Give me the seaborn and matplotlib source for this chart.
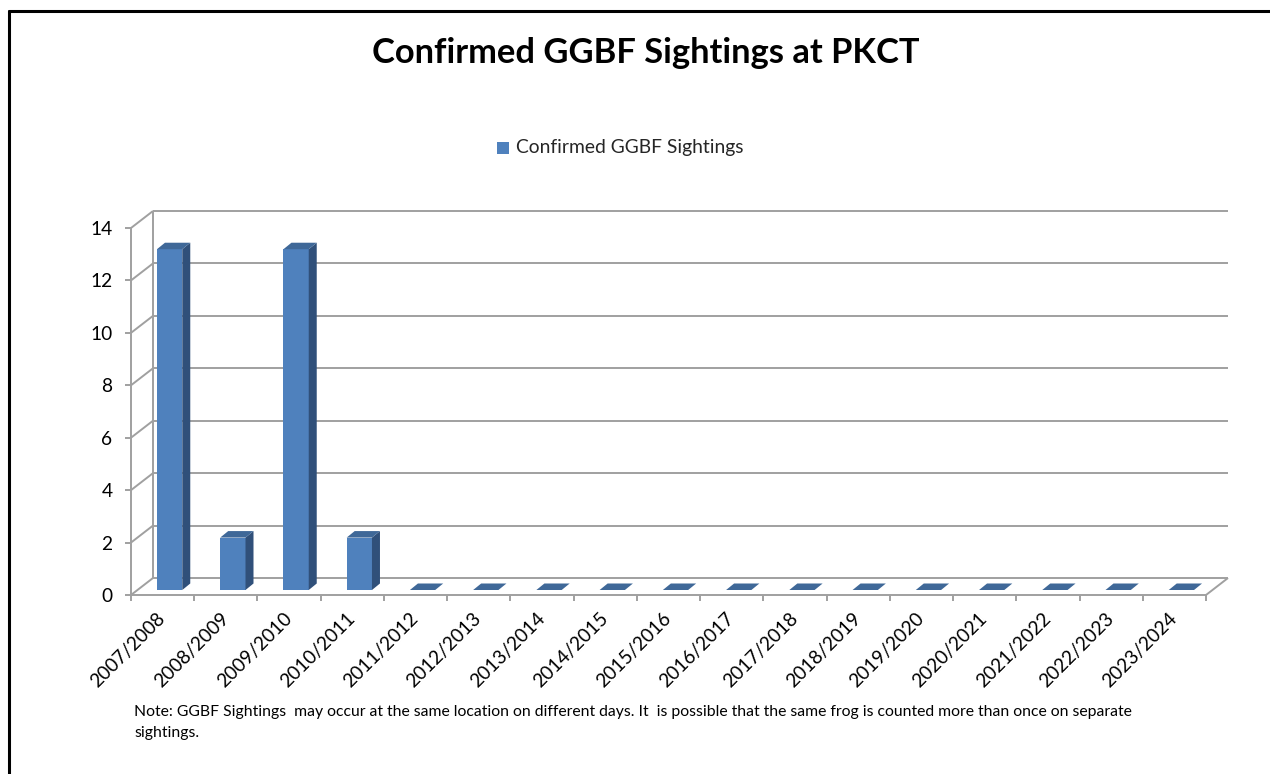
import numpy as np
import pandas as pd
import matplotlib
matplotlib.use("Agg")
import matplotlib.pyplot as plt
import seaborn as sns
from matplotlib.patches import Polygon, Patch
from matplotlib.lines import Line2D

# ---------------- data ----------------
seasons = ["2007/2008", "2008/2009", "2009/2010", "2010/2011", "2011/2012",
           "2012/2013", "2013/2014", "2014/2015", "2015/2016", "2016/2017",
           "2017/2018", "2018/2019", "2019/2020", "2020/2021", "2021/2022",
           "2022/2023", "2023/2024"]
sightings = [13, 2, 13, 2, 0, 0, 0, 0, 0, 0, 0, 0, 0, 0, 0, 0, 0]
y_ticks = [0, 2, 4, 6, 8, 10, 12, 14]
series_name = "Confirmed GGBF Sightings"
title_text = "Confirmed GGBF Sightings at PKCT"
note_text = ("Note: GGBF Sightings  may occur at the same location on different days. "
             "It  is possible that the same frog is counted more than once on separate\n"
             "sightings.")

# ---------------- style ----------------
W, H, DPI = 1270, 774, 100
sns.set_style("white")
plt.rcParams["font.family"] = ["Lato", "DejaVu Sans"]

FRONT = "#4F81BD"
SIDE = "#30507A"
TOP = "#3F6898"
GRID = "#A0A0A0"
GLW = 1.4

fig = plt.figure(figsize=(W / DPI, H / DPI), dpi=DPI)
fig.patch.set_facecolor("white")

# front plane of the 3-D box, in pixels
X0, X1, Y0, Y1 = 131, 1206, 595, 228
ax = fig.add_axes([X0 / W, 1 - Y0 / H, (X1 - X0) / W, (Y0 - Y1) / H])

df = pd.DataFrame({"season": seasons, "sightings": sightings})
sns.barplot(data=df, x="season", y="sightings", order=seasons, color=FRONT,
            saturation=1, width=0.4, ax=ax, zorder=3, linewidth=0)

n = len(seasons)
ax.set_xlim(-0.5, n - 0.5)
ax.set_ylim(0, y_ticks[-1])
ax.patch.set_visible(False)
for s in ax.spines.values():
    s.set_visible(False)

# pixel -> data unit conversion
sx = (X1 - X0) / n
sy = (Y0 - Y1) / y_ticks[-1]
WDX, WDY = 22 / sx, 17 / sy      # wall depth
BX, BY = 7 / sx, 5 / sy          # bar placement inside depth
BDX, BDY = 8 / sx, 6.5 / sy      # bar depth

xl, xr = -0.5, n - 0.5
kw = dict(color=GRID, lw=GLW, clip_on=False, zorder=1, solid_capstyle="butt")
# back wall gridlines + left wall slants
for t in y_ticks:
    ax.plot([xl + WDX, xr + WDX], [t + WDY, t + WDY], **kw)
    ax.plot([xl, xl + WDX], [t, t + WDY], **kw)
ax.plot([xl + WDX, xl + WDX], [WDY, y_ticks[-1] + WDY], **kw)
# front axis lines and floor edges
ax.plot([xl, xl], [0, y_ticks[-1]], **kw)
ax.plot([xl, xr], [0, 0], **kw)
ax.plot([xr, xr + WDX], [0, WDY], **kw)

# 3-D bars built from the seaborn bar patches
bars = list(ax.patches)
for p in bars:
    x, w, h = p.get_x(), p.get_width(), p.get_height()
    x0 = x + BX
    p.set_x(x0)
    p.set_y(BY)
    top = BY + h
    side = Polygon([(x0 + w, BY), (x0 + w + BDX, BY + BDY),
                    (x0 + w + BDX, top + BDY), (x0 + w, top)],
                   closed=True, facecolor=SIDE, edgecolor="none",
                   zorder=3, clip_on=False)
    cap = Polygon([(x0, top), (x0 + w, top), (x0 + w + BDX, top + BDY),
                   (x0 + BDX, top + BDY)],
                  closed=True, facecolor=TOP, edgecolor="none",
                  zorder=3, clip_on=False)
    ax.add_patch(side)
    ax.add_patch(cap)

# ticks & labels
ax.set_yticks(y_ticks)
ax.set_yticklabels([str(t) for t in y_ticks])
ax.set_xticks(range(n))
ax.set_xticklabels(seasons, rotation=45, ha="right", va="center",
                   rotation_mode="anchor")
ax.set_xticks(np.arange(-0.5, n, 1), minor=True)
ax.tick_params(axis="y", left=True, length=4.3, width=GLW, color=GRID,
               pad=9.0, labelsize=13.8, labelcolor="black")
ax.tick_params(axis="x", which="major", bottom=True, length=0, pad=15,
               labelsize=13.8, labelcolor="black")
ax.tick_params(axis="x", which="minor", bottom=True, length=4.3, width=GLW,
               color=GRID)
ax.set_xlabel("")
ax.set_ylabel("")

# title, legend, note
title = fig.text(646 / W, 1 - 63 / H, title_text, ha="center", va="baseline",
                 fontsize=20, fontweight="bold", color="black")
leg = fig.legend(handles=[Patch(facecolor=FRONT, edgecolor="none", label=series_name)],
                 loc="center", bbox_to_anchor=(620 / W, 1 - 148 / H),
                 frameon=False, fontsize=12, handlelength=0.75,
                 handleheight=0.75, handletextpad=0.4, borderpad=0)
note = fig.text(134 / W, 1 - 705 / H, note_text, ha="left", va="top",
                fontsize=10.5, color="black", linespacing=1.6)

# fit text widths to the reference
fig.canvas.draw()
r = fig.canvas.get_renderer()
def fit(t, target):
    w = t.get_window_extent(r).width
    t.set_fontsize(t.get_fontsize() * target / w)
fit(title, 547)
fit(leg.get_texts()[0], 227)
fig.canvas.draw()
w1 = note.get_window_extent(r).width
note.set_fontsize(note.get_fontsize() * 1008 / w1)

# outer border (top and left only)
fig.add_artist(Line2D([9 / W, 9 / W], [0, 1 - 11 / H], transform=fig.transFigure,
                      color="black", lw=2.2))
fig.add_artist(Line2D([9 / W, 1], [1 - 11 / H, 1 - 11 / H], transform=fig.transFigure,
                      color="black", lw=2.2))

fig.savefig("out.png", dpi=DPI)
